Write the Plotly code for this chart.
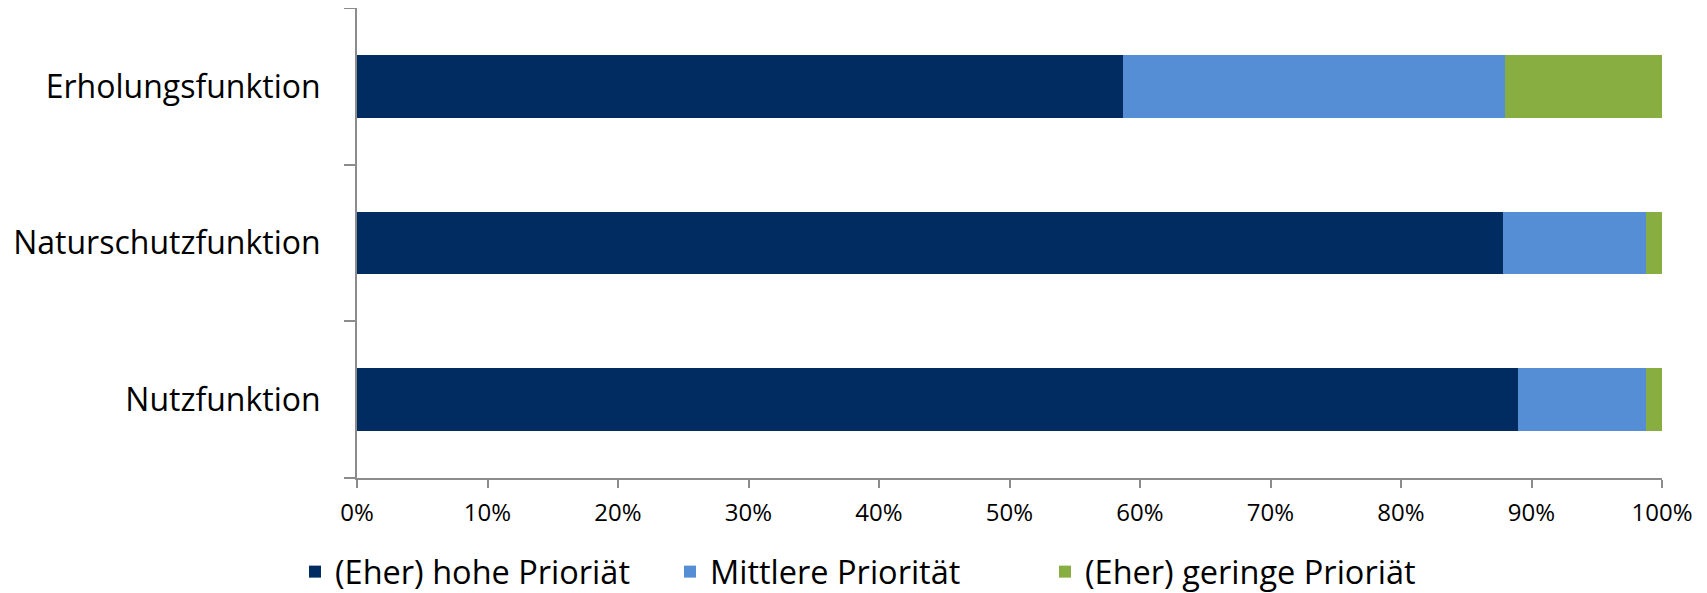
import plotly.graph_objects as go

categories = ["Nutzfunktion", "Naturschutzfunktion", "Erholungsfunktion"]
series_names = ["(Eher) hohe Prioriät", "Mittlere Priorität", "(Eher) geringe Prioriät"]
hohe = [0.890, 0.878, 0.587]
mittlere = [0.098, 0.110, 0.293]
geringe = [0.012, 0.012, 0.120]
colors = ["#002C62", "#558ED5", "#88AE42"]
x_ticks = [0, 0.1, 0.2, 0.3, 0.4, 0.5, 0.6, 0.7, 0.8, 0.9, 1.0]

FONT = "Open Sans"

fig = go.Figure()
for name, vals, col in zip(series_names, [hohe, mittlere, geringe], colors):
    fig.add_trace(go.Bar(
        y=categories, x=vals, name=name, orientation="h",
        marker=dict(color=col, line=dict(width=0)),
    ))

fig.update_layout(
    barmode="stack",
    bargap=0.6,
    width=1707, height=593,
    margin=dict(l=349, r=53, t=0, b=123),
    paper_bgcolor="white", plot_bgcolor="white",
    font=dict(family=FONT, color="#000000"),
    legend=dict(
        orientation="h", xref="paper", x=-0.0475, xanchor="left",
        yref="paper", y=-0.2, yanchor="middle",
        font=dict(size=32.5, family=FONT),
        itemwidth=30, traceorder="normal",
        entrywidth=330, entrywidthmode="pixels",
    ),
    showlegend=True,
)
fig.update_xaxes(
    range=[0, 1], tickvals=x_ticks, tickformat=".0%",
    showgrid=False, zeroline=False, automargin=False,
    showline=True, linecolor="#8C8C8C", linewidth=2,
    ticks="outside", ticklen=8, tickcolor="#8C8C8C", tickwidth=1.5,
    tickfont=dict(size=24, family=FONT), ticklabelstandoff=4,
)
fig.update_yaxes(
    categoryorder="array", categoryarray=categories,
    showgrid=False, zeroline=False, automargin=False,
    showline=True, linecolor="#8C8C8C", linewidth=2,
    ticks="outside", tickson="boundaries", ticklen=11, tickcolor="#8C8C8C", tickwidth=1.5,
    tickfont=dict(size=32, family=FONT), ticklabelstandoff=28,
)

fig.write_html("out.html")
